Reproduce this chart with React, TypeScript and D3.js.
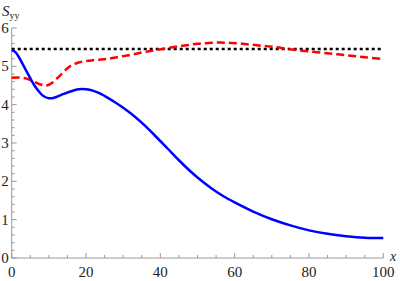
import * as React from 'react';
import * as d3 from 'd3';

const xsBlue = [0, 1, 2, 3, 4, 5, 6, 7, 8, 9, 10, 11, 12, 14, 16, 18, 20, 22, 24, 26, 28, 30, 33, 36, 39, 42, 45, 48, 51, 54, 57, 60, 65, 70, 75, 80, 85, 90, 95, 100];
const blue = [5.43, 5.37, 5.23, 5.05, 4.87, 4.69, 4.52, 4.38, 4.27, 4.2, 4.17, 4.17, 4.2, 4.28, 4.35, 4.4, 4.4, 4.36, 4.28, 4.17, 4.05, 3.92, 3.7, 3.44, 3.15, 2.85, 2.55, 2.27, 2.02, 1.8, 1.61, 1.45, 1.21, 1.01, 0.85, 0.72, 0.63, 0.57, 0.53, 0.52];

const xsRed = [0, 2, 4, 6, 8, 9, 10, 11, 13, 15, 16, 18, 20, 23, 26, 29, 32, 35, 38, 41, 44, 47, 50, 53, 56, 59, 62, 65, 68, 71, 74, 77, 80, 85, 90, 95, 100];
const red = [4.7, 4.71, 4.68, 4.6, 4.52, 4.5, 4.52, 4.58, 4.76, 4.95, 5.02, 5.1, 5.14, 5.17, 5.2, 5.25, 5.3, 5.36, 5.41, 5.46, 5.51, 5.55, 5.59, 5.61, 5.62, 5.61, 5.59, 5.56, 5.53, 5.5, 5.46, 5.42, 5.39, 5.34, 5.29, 5.24, 5.19];

const blackLevel = 5.45;

const xMajor = [0, 20, 40, 60, 80, 100];
const yMajor = [0, 1, 2, 3, 4, 5, 6];

export default function App() {
  const x = d3.scaleLinear().domain([0, 100]).range([11.7, 383.3]);
  const y = d3.scaleLinear().domain([0, 6]).range([258, 28]);

  const line = d3
    .line<[number, number]>()
    .x(d => x(d[0]))
    .y(d => y(d[1]))
    .curve(d3.curveCatmullRom.alpha(0.5));

  const bluePath = line(xsBlue.map((v, i) => [v, blue[i]]) as [number, number][]) || '';
  const redPath = line(xsRed.map((v, i) => [v, red[i]]) as [number, number][]) || '';

  const xMinor = d3.range(0, 101, 5).filter(v => v % 20 !== 0);
  const yMinor = d3.range(0, 6.001, 0.2).filter(v => Math.abs(v - Math.round(v)) > 0.01);

  const axisColor = '#999';
  const font = "'Times New Roman', Times, 'Liberation Serif', 'DejaVu Serif', serif";

  return (
    <div style={{ position: 'absolute', left: 0, top: 0 }}>
      <svg width={400} height={281} style={{ display: 'block' }}>
        <rect width={400} height={281} fill="white" />
        {/* axes */}
        <line x1={x(0)} x2={x(100)} y1={y(0)} y2={y(0)} stroke={axisColor} strokeWidth={1} />
        <line x1={x(0)} x2={x(0)} y1={y(0)} y2={y(6)} stroke={axisColor} strokeWidth={1} />
        {xMajor.map(v => (
          <line key={'xm' + v} x1={x(v)} x2={x(v)} y1={y(0)} y2={y(0) - 5} stroke={axisColor} />
        ))}
        {xMinor.map(v => (
          <line key={'xn' + v} x1={x(v)} x2={x(v)} y1={y(0)} y2={y(0) - 3} stroke={axisColor} />
        ))}
        {yMajor.map(v => (
          <line key={'ym' + v} x1={x(0)} x2={x(0) + 5} y1={y(v)} y2={y(v)} stroke={axisColor} />
        ))}
        {yMinor.map(v => (
          <line key={'yn' + v.toFixed(1)} x1={x(0)} x2={x(0) + 3} y1={y(v)} y2={y(v)} stroke={axisColor} />
        ))}
        {xMajor.map(v => (
          <text key={'xl' + v} x={x(v)} y={277} textAnchor="middle" style={{ fontFamily: font }} fontSize={15} fill="#222">
            {v}
          </text>
        ))}
        {yMajor.map(v => (
          <text key={'yl' + v} x={x(0) - 3} y={y(v) + 5} textAnchor="end" style={{ fontFamily: font }} fontSize={15} fill="#222">
            {v}
          </text>
        ))}
        <text x={390} y={261} style={{ fontFamily: font }} fontSize={14} fontStyle="italic" fill="#222">
          x
        </text>
        <text x={2} y={16} style={{ fontFamily: font }} fontSize={15} fill="#222">
          <tspan fontStyle="italic">S</tspan>
          <tspan fontSize={10} dy={3}>yy</tspan>
        </text>
        {/* curves */}
        <line
          x1={x(0)}
          x2={x(100)}
          y1={y(blackLevel)}
          y2={y(blackLevel)}
          stroke="black"
          strokeWidth={2.5}
          strokeDasharray="3,3"
        />
        <path d={redPath} fill="none" stroke="#ff0000" strokeWidth={2.5} strokeDasharray="8,4" />
        <path d={bluePath} fill="none" stroke="#0000ff" strokeWidth={2.5} />
      </svg>
    </div>
  );
}
